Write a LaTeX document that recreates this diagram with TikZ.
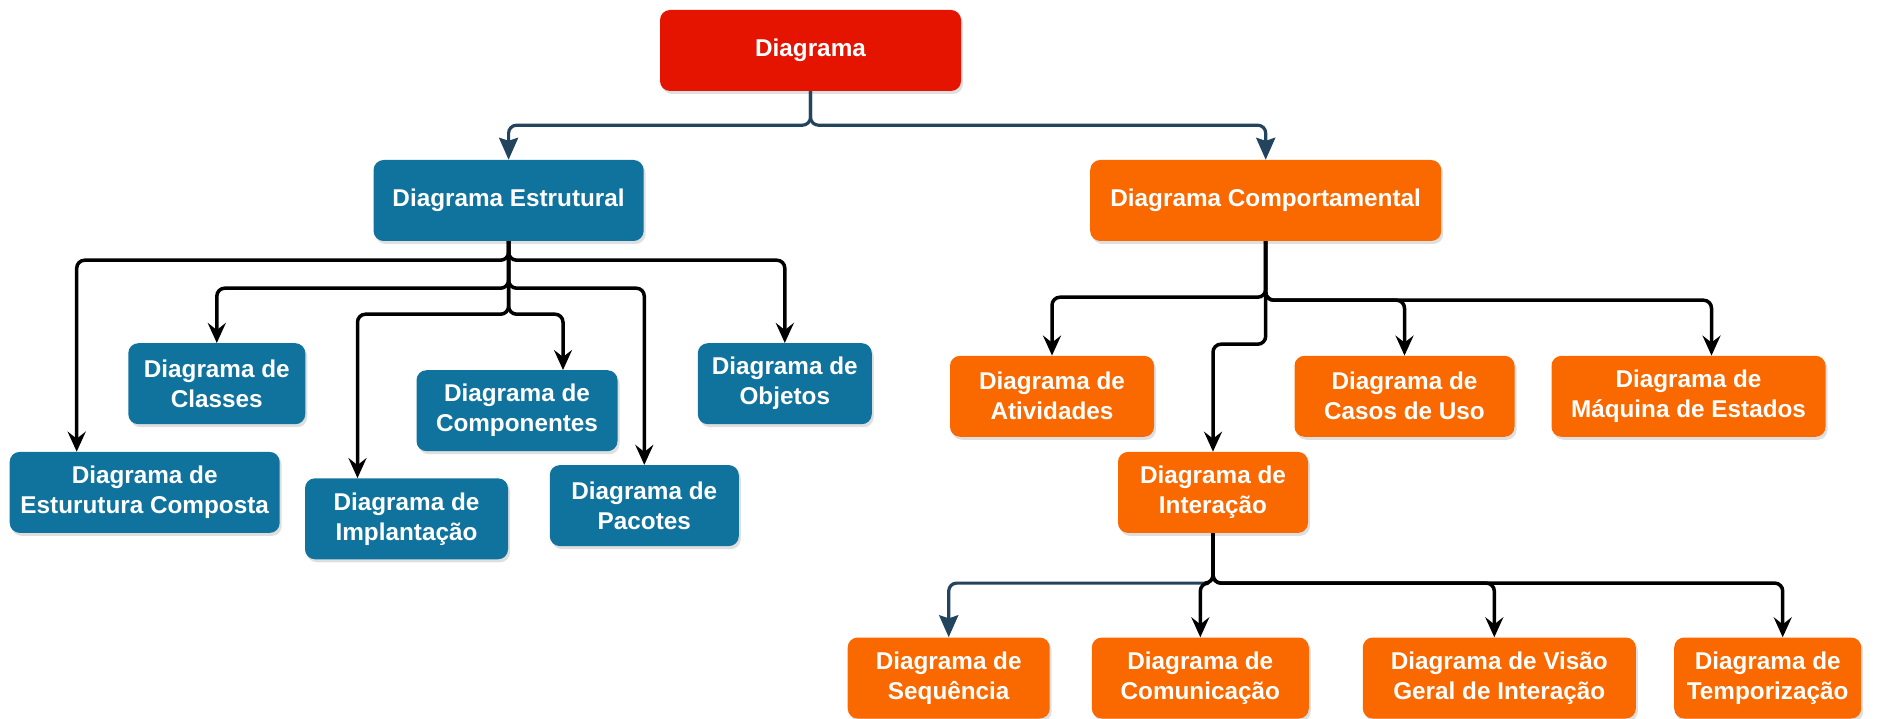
\documentclass[tikz,border=0pt]{standalone}
\usepackage{fontspec}
\setmainfont{Liberation Sans}
\usepackage{tikz}
\usetikzlibrary{arrows.meta,shadows,positioning}
\definecolor{myred}{HTML}{E51400}
\definecolor{myblue}{HTML}{10739E}
\definecolor{myorange}{HTML}{FA6800}
\definecolor{mynavy}{HTML}{23445D}
\tikzset{
    diagbox/.style={
        rectangle, rounded corners=10pt, minimum height=81pt,
        align=center, text=white, inner sep=2pt,
        font=\fontsize{24.3}{30}\selectfont\bfseries,
        drop shadow={shadow xshift=2pt,shadow yshift=-3pt,opacity=0.25}
    },
    rootbox/.style={diagbox, fill=myred},
    estbox/.style={diagbox, fill=myblue},
    compbox/.style={diagbox, fill=myorange}
}

\begin{document}
\begin{tikzpicture}[
      x=1pt, y=-1pt,
  conn/.style={
    line width=3.5pt,
    rounded corners=8pt,
    -{Stealth[length=20pt,width=18pt,inset=7pt]}
    },
  navyconn/.style={
    draw=mynavy,
    line width=3.2pt,
    rounded corners=8pt,
    -{Stealth[length=22pt,width=19pt,inset=3pt]}
    }
      ]
\useasboundingbox (0,0) rectangle (1883,719);

\node[rootbox, minimum width=301pt] (diagrama) at (810.5,50.5) {Diagrama};
\node[estbox, minimum width=270pt] (estr) at (508.6,200.5) {Diagrama Estrutural};
\node[compbox, minimum width=351pt] (comp) at (1265.7,200.5) {Diagrama Comportamental};

\foreach \Dst in {estr,comp}
  \draw[navyconn] (diagrama.south) -- ++(0,34) -| (\Dst.north);

% estrutural
\node[estbox, minimum width=177pt] (classes) at (216.8,383.7) {Diagrama de\\Classes};
\node[estbox, minimum width=270pt] (composta) at (144.7,492.4) {Diagrama de\\Esturutura Composta};
\node[estbox, minimum width=203pt] (implant) at (406.5,518.8) {Diagrama de\\Implantação};
\node[estbox, minimum width=201pt] (componentes) at (517,410.7) {Diagrama de\\Componentes};
\node[estbox, minimum width=189pt] (pacotes) at (644.3,505.6) {Diagrama de\\Pacotes};
\node[estbox, minimum width=174pt] (objetos) at (784.8,383.7) {Diagrama de\\Objetos};

\foreach \Dst/\Drop/\Dx in {composta/19/-68, objetos/19/0, classes/47/0, pacotes/47/0, implant/73/-49, componentes/73/46}
  \draw[conn] (estr.south) -- ++(0,\Drop) -| ([xshift=\Dx pt]\Dst.north);

% comportamental
\node[compbox, minimum width=204pt] (atividades) at (1052,396.3) {Diagrama de\\Atividades};
\node[compbox, minimum width=220pt] (casos) at (1404.5,396.3) {Diagrama de\\Casos de Uso};
\node[compbox, minimum width=274pt] (maquina) at (1688.5,396.3) {Diagrama de\\Máquina de Estados};
\node[compbox, minimum width=190pt] (interacao) at (1213,492.4) {Diagrama de\\Interação};

\foreach \Dst/\Drop/\Dx in {atividades/56/0, casos/59/0, maquina/59/23}
  \draw[conn] (comp.south) -- ++(0,\Drop) -| ([xshift=\Dx pt]\Dst.north);
\draw[conn] (comp.south) -- ++(0,103) -| (interacao.north);

% interacao
\node[compbox, minimum width=202pt] (sequencia) at (948.7,678) {Diagrama de\\Sequência};
\node[compbox, minimum width=217pt] (comunicacao) at (1200.3,678) {Diagrama de\\Comunicação};
\node[compbox, minimum width=273pt] (visao) at (1499.3,678) {Diagrama de Visão\\Geral de Interação};
\node[compbox, minimum width=187pt] (temporizacao) at (1767.7,678) {Diagrama de\\Temporização};

\draw[navyconn] (interacao.south) -- ++(0,50) -| (sequencia.north);
\foreach \Dst/\Dx in {comunicacao/0, visao/-5, temporizacao/15}
  \draw[conn] (interacao.south) -- ++(0,50) -| ([xshift=\Dx pt]\Dst.north);

\end{tikzpicture}
\end{document}
